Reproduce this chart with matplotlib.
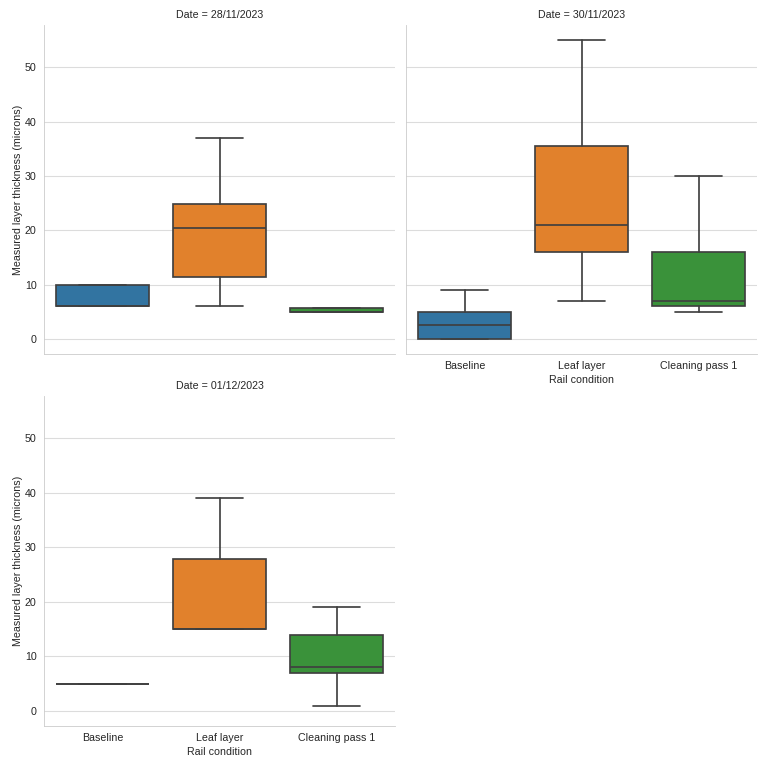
import matplotlib
matplotlib.use("Agg")
import matplotlib.pyplot as plt
import seaborn as sns

sns.set_style("whitegrid")
plt.rcParams['font.family'] = ['Liberation Sans', 'DejaVu Sans']

dates = ["28/11/2023", "30/11/2023", "01/12/2023"]
conditions = ["Baseline", "Leaf layer", "Cleaning pass 1"]

# per date: lists over conditions
whislo = [[6, 6, 5], [0, 7, 5], [5, 15, 1]]
q1 = [[6, 11.5, 5], [0, 16, 6], [5, 15, 7]]
med = [[6, 20.5, 5], [2.5, 21, 7], [5, 15, 8]]
q3 = [[10, 24.8, 5.8], [5, 35.5, 16], [5, 27.8, 14]]
whishi = [[10, 37, 5.8], [9, 55, 30], [5, 39, 19]]

colors = ["#3274a1", "#e1812c", "#3a923a"]
line_c = "#3f3f3f"

dpi = 76.8
fig = plt.figure(figsize=(10, 10), dpi=dpi)
W = H = 768.0
def ax_at(x0, y0, x1, y1):
    return fig.add_axes([x0 / W, 1 - y1 / H, (x1 - x0) / W, (y1 - y0) / H])

axes = [ax_at(44, 25, 395, 354), ax_at(406, 25, 757, 354), ax_at(44, 396, 395, 726)]
fs = 10

for i, ax in enumerate(axes):
    stats = []
    for j, c in enumerate(conditions):
        stats.append(dict(label=c, whislo=whislo[i][j], q1=q1[i][j], med=med[i][j],
                          q3=q3[i][j], whishi=whishi[i][j], fliers=[]))
    bp = ax.bxp(stats, positions=range(len(conditions)), widths=0.8, patch_artist=True,
                showfliers=False, capwidths=0.4,
                boxprops=dict(edgecolor=line_c, linewidth=1.6),
                medianprops=dict(color=line_c, linewidth=1.6),
                whiskerprops=dict(color=line_c, linewidth=1.6),
                capprops=dict(color=line_c, linewidth=1.6))
    for patch, col in zip(bp['boxes'], colors):
        patch.set_facecolor(col)
    ax.set_xlim(-0.5, 2.5)
    ax.set_ylim(-2.75, 57.75)
    ax.set_yticks([0, 10, 20, 30, 40, 50])
    ax.xaxis.grid(False)
    ax.yaxis.grid(True, color="#dcdcdc", linewidth=1)
    ax.set_axisbelow(True)
    for s in ["top", "right"]:
        ax.spines[s].set_visible(False)
    for s in ["left", "bottom"]:
        ax.spines[s].set_color("#cccccc")
    ax.tick_params(length=0, labelsize=fs, colors="#262626", pad=7)
    ax.set_title(f"Date = {dates[i]}", fontsize=fs, color="#262626", pad=7)

axes[0].set_xticklabels([])
axes[0].set_ylabel("Measured layer thickness (microns)", fontsize=fs, color="#262626", labelpad=2)
axes[2].set_ylabel("Measured layer thickness (microns)", fontsize=fs, color="#262626", labelpad=2)
axes[1].set_yticklabels([])
axes[1].set_xlabel("Rail condition", fontsize=fs, color="#262626", labelpad=3)
axes[2].set_xlabel("Rail condition", fontsize=fs, color="#262626", labelpad=3)

fig.savefig("out.png", dpi=dpi)
